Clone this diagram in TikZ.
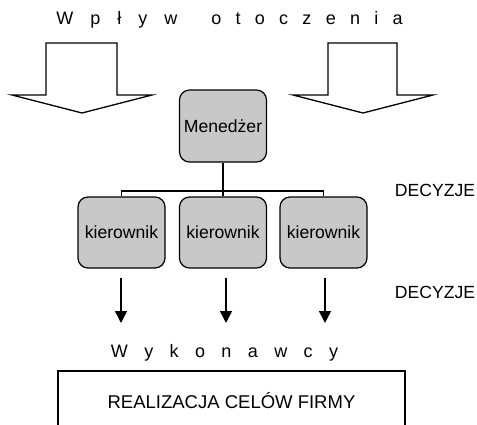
\documentclass[tikz,border=0pt]{standalone}
\usepackage{fontspec}
\setmainfont{Liberation Sans}
\usetikzlibrary{arrows.meta}
\definecolor{boxgray}{RGB}{200,200,200}
\begin{document}
\begin{tikzpicture}[x=1pt,y=-1pt,
  every node/.style={font=\fontsize{17.6}{20}\selectfont},
  unit/.style={draw, line width=1.2pt, fill=boxgray, rounded corners=10pt,
    minimum width=87pt, minimum height=71pt, inner sep=0pt},
  bigarrow/.style={draw, line width=1.3pt, fill=white, line join=miter},
  order/.style={line width=1.5pt, -{Triangle[length=12pt,width=12pt]}, shorten <=9pt},
  tree/.style={line width=1.1pt},
  stem/.style={line width=2.2pt},
  txt/.style={inner sep=0pt},
  goalbox/.style={draw, line width=1.5pt, minimum width=347pt, minimum height=59pt, inner sep=0pt},
]
\clip (0,0) rectangle (477,424);

% heading
\node[txt, anchor=base, font=\fontsize{18}{20}\selectfont] (title) at (229.5,24.5)
  {W\hspace{17pt}p\hspace{17pt}ł\hspace{17pt}y\hspace{17pt}w\hspace{34pt}o\hspace{14.3pt}t\hspace{14.3pt}o\hspace{14.3pt}c\hspace{14.3pt}z\hspace{14.3pt}e\hspace{14.3pt}n\hspace{14.3pt}i\hspace{14.3pt}a};

% outside influence arrows
\draw[bigarrow] (46,43) -- (117,43) -- (117,95) -- (152,95) -- (82,113) -- (12,95) -- (46,95) -- cycle;
\draw[bigarrow] (328,43) -- (397,43) -- (397,95) -- (433,95) -- (363,113) -- (293,95) -- (328,95) -- cycle;

% hierarchy
\node[unit, minimum height=72pt] (m) at (223,126) {Menedżer};
\node[unit] (k1) at (121.5,232.5) {kierownik};
\node[unit] (k2) at (223,232.5) {kierownik};
\node[unit] (k3) at (323.5,232.5) {kierownik};

\coordinate (j) at (223,191);
\draw[tree] (k1.north) |- (j) -| (k3.north);
\draw[tree] (j) -- (k2.north);
\draw[stem] (m.south) -- (j);

% decisions
\node[txt] (d1) at (435,190.5) {DECYZJE};
\node[txt] (d2) at (435,292.5) {DECYZJE};

% orders to executors
\coordinate (e1) at (121,323);
\coordinate (e2) at (226,323);
\coordinate (e3) at (325,323);
\draw[order] (k1.south -| e1) -- (e1);
\draw[order] (k2.south -| e2) -- (e2);
\draw[order] (k3.south -| e3) -- (e3);

\node[txt, anchor=base, font=\fontsize{18}{20}\selectfont] (exec) at (224.5,357)
  {W\hspace{16.4pt}y\hspace{16.4pt}k\hspace{16.4pt}o\hspace{16.4pt}n\hspace{16.4pt}a\hspace{16.4pt}w\hspace{16.4pt}c\hspace{16.4pt}y};

% company goals
\node[goalbox, font=\fontsize{18.5}{20}\selectfont] (goal) at (231.5,400.5) {REALIZACJA CELÓW FIRMY};
\end{tikzpicture}
\end{document}
